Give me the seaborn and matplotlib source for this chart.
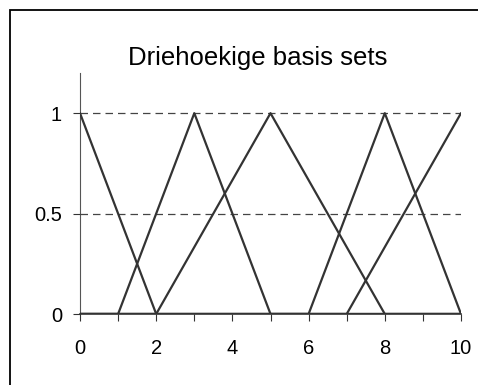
import matplotlib
matplotlib.use("Agg")
import matplotlib.pyplot as plt
import seaborn as sns
import pandas as pd
from matplotlib.patches import Rectangle
from matplotlib.ticker import MultipleLocator

# data: five triangular basis functions sampled at x = 0..10
x_vals = [0, 1, 2, 3, 4, 5, 6, 7, 8, 9, 10]
set_1 = [1, 0.5, 0, 0, 0, 0, 0, 0, 0, 0, 0]
set_2 = [0, 0, 0.5, 1, 0.5, 0, 0, 0, 0, 0, 0]
set_3 = [0, 0, 0, 1/3, 2/3, 1, 2/3, 1/3, 0, 0, 0]
set_4 = [0, 0, 0, 0, 0, 0, 0, 0.5, 1, 0.5, 0]
set_5 = [0, 0, 0, 0, 0, 0, 0, 0, 1/3, 2/3, 1]
y_ticks = [0, 0.5, 1]
y_labels = ["0", "0.5", "1"]

title = "Driehoekige basis sets"

rows = []
for name, vals in [("1", set_1), ("2", set_2), ("3", set_3), ("4", set_4), ("5", set_5)]:
    for xv, yv in zip(x_vals, vals):
        rows.append({"x": xv, "y": yv, "set": name})
df = pd.DataFrame(rows)

sns.set_style("white")
plt.rcParams["font.family"] = ["Liberation Sans", "DejaVu Sans"]

fig = plt.figure(figsize=(4.78, 3.85), dpi=100)
ax = fig.add_axes([80 / 478, 1 - 314 / 385, 381 / 478, 241 / 385])

# outer frame (clipped like the original)
fig.patches.append(Rectangle((10 / 478, -0.1), 1.2, 1.1 - 10 / 385,
                             transform=fig.transFigure, fill=False,
                             edgecolor="black", linewidth=1.3))

for yv in [0.5, 1]:
    ax.axhline(yv, color="#444444", linestyle=(0, (6, 4)), linewidth=0.9, zorder=1)

sns.lineplot(data=df, x="x", y="y", units="set", estimator=None,
             color="#333333", linewidth=1.6, ax=ax, zorder=3)

ax.set_xlim(0, 10)
ax.set_ylim(0, 1.2)
ax.xaxis.set_major_locator(MultipleLocator(2))
ax.xaxis.set_minor_locator(MultipleLocator(1))
ax.set_yticks(y_ticks)
ax.set_yticklabels(y_labels)
ax.set_xlabel("")
ax.set_ylabel("")

for side in ["top", "right"]:
    ax.spines[side].set_visible(False)
ax.spines["left"].set_color("#555555")
ax.spines["left"].set_linewidth(0.8)
ax.spines["bottom"].set_color("#333333")
ax.spines["bottom"].set_linewidth(1.2)
ax.spines["left"].set_zorder(0)

ax.tick_params(axis="x", which="both", direction="out", length=5, width=0.8,
               color="#333333", labelsize=14.5, labelcolor="black", pad=13, bottom=True)
ax.tick_params(axis="y", direction="out", length=5, width=0.8,
               color="#333333", labelsize=14.5, labelcolor="black", pad=8, left=True)

fig.text(258 / 478, 1 - 58 / 385, title, ha="center", va="center",
         fontsize=18.5, color="black")

fig.savefig("out.png", dpi=100)
